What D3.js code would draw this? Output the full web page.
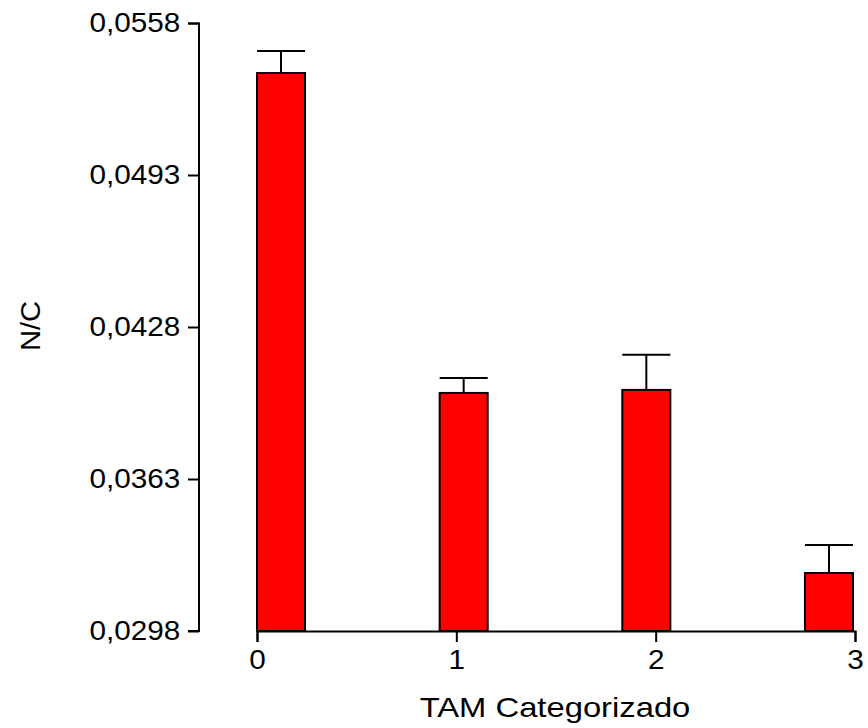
<!DOCTYPE html>
<html>
<head>
<meta charset="utf-8">
<title>N/C por TAM Categorizado</title>
<style>
    body { margin: 0; background: #fff; }
    svg text { font-family: "Liberation Sans", Arial, sans-serif; fill: #000; }
</style>
</head>
<body>
<script src="https://cdn.jsdelivr.net/npm/d3@7"></script>
<script>
    // values
    var categories = ["0", "1", "2", "3"];
    var means = [0.05366, 0.03998, 0.04011, 0.03228];
    var errors = [0.00094, 0.00064, 0.00150, 0.00120];
    var yTicks = [0.0298, 0.0363, 0.0428, 0.0493, 0.0558];
    var yTickLabels = ["0,0298", "0,0363", "0,0428", "0,0493", "0,0558"];
    var xTicks = [0, 1, 2, 3];

    var width = 868, height = 728;

    var svg = d3.select("body")
        .append("svg")
        .attr("width", width)
        .attr("height", height);

    var y = d3.scaleLinear().domain([0.0298, 0.0558]).range([631, 23]);
    var xTick = d3.scaleLinear().domain([0, 3]).range([257, 855]);
    var xBar = d3.scaleBand().domain(categories).range([257, 853]).paddingInner(0.737).paddingOuter(0);

    // y axis
    var yAxis = svg.append("g")
        .attr("transform", "translate(199,0)")
        .call(d3.axisLeft(y).tickValues(yTicks).tickSize(11).tickPadding(6)
            .tickFormat(function(d, i) { return yTickLabels[i]; }));
    yAxis.select(".domain").attr("stroke", "#000").attr("stroke-width", 2).attr("d", "M-11,23.5H0V631H-11");
    yAxis.selectAll(".tick line").attr("stroke", "#000").attr("stroke-width", 2);
    // the original type is a little wider than Liberation Sans
    yAxis.selectAll(".tick text").style("font-size", "27px").attr("fill", "#000")
        .attr("transform", "scale(1.1,1)");

    // x axis
    var xAxis = svg.append("g")
        .attr("transform", "translate(0,631)")
        .call(d3.axisBottom(xTick).tickValues(xTicks).tickSize(11).tickPadding(8)
            .tickFormat(d3.format("d")));
    xAxis.select(".domain").attr("stroke", "#000").attr("stroke-width", 2);
    xAxis.selectAll(".tick line").attr("stroke", "#000").attr("stroke-width", 2);
    xAxis.selectAll(".tick text").style("font-size", "27px").attr("fill", "#000")
        .attr("transform", "scale(1.1,1)");

    // bars
    svg.append("g")
        .selectAll("rect")
        .data(means)
        .join("rect")
        .attr("x", function(d, i) { return xBar(categories[i]); })
        .attr("y", function(d) { return y(d); })
        .attr("width", xBar.bandwidth())
        .attr("height", function(d) { return y(0.0298) - y(d); })
        .attr("fill", "#ff0000")
        .attr("stroke", "#000")
        .attr("stroke-width", 2);

    // error bars (upper only)
    var err = svg.append("g").attr("stroke", "#000").attr("stroke-width", 2);
    means.forEach(function(m, i) {
        var x0 = xBar(categories[i]);
        var cx = x0 + xBar.bandwidth() / 2;
        err.append("line")
            .attr("x1", cx).attr("x2", cx)
            .attr("y1", y(m)).attr("y2", y(m + errors[i]));
        err.append("line")
            .attr("x1", x0).attr("x2", x0 + xBar.bandwidth())
            .attr("y1", y(m + errors[i])).attr("y2", y(m + errors[i]));
    });

    // axis titles
    svg.append("text")
        .attr("transform", "translate(555,717) scale(1.17,1)")
        .attr("text-anchor", "middle")
        .style("font-size", "28px")
        .text("TAM Categorizado");

    svg.append("text")
        .attr("transform", "translate(40,326) rotate(-90) scale(1.08,1)")
        .attr("text-anchor", "middle")
        .style("font-size", "27px")
        .text("N/C");
</script>
</body>
</html>
